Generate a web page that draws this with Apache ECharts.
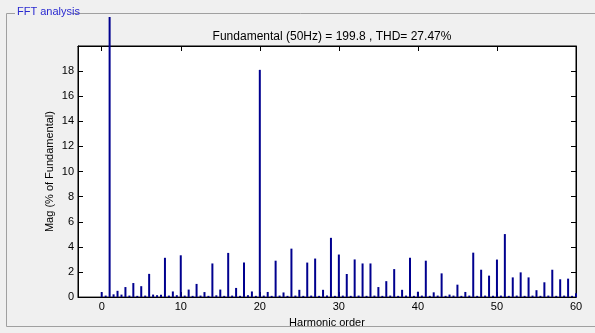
<!DOCTYPE html>
<html>
<head>
<meta charset="utf-8">
<script src="https://cdn.jsdelivr.net/npm/echarts@6/dist/echarts.min.js"></script>
<style>
html,body{margin:0;padding:0;background:#f0f0f0;}
#c{width:595px;height:333px;}
</style>
</head>
<body>
<div id="c"></div>
<script>
// Harmonic orders and magnitudes (% of fundamental)
const harmonicOrders = [0,1,2,3,4,5,6,7,8,9,10,11,12,13,14,15,16,17,18,19,20,21,22,23,24,25,26,27,28,29,30,31,32,33,34,35,36,37,38,39,40,41,42,43,44,45,46,47,48,49,50,51,52,53,54,55,56,57,58,59,60];
const harmonicMags = [0.4,100,0.5,0.8,1.12,0.87,1.85,0.15,3.13,0.45,3.33,0.6,1.05,0.4,2.68,0.6,3.52,0.73,2.75,0.45,18.1,0.41,2.9,0.37,3.86,0.58,2.75,3.07,0.58,4.72,3.39,1.84,3.0,2.68,2.68,0.8,1.27,2.23,0.58,3.13,0.43,2.9,0.38,1.89,0.2,0.99,0.41,3.54,2.18,1.71,2.99,5.02,1.57,1.97,1.57,0.55,1.18,2.18,1.42,1.47,0.3];
// Interharmonic components (small baseline content)
const interOrders = [0.5,1.5,2.5,3.5,4.5,5.5,6.5,7.5,8.5,9.5,10.5,11.5,12.5,13.5,14.5,15.5,16.5,17.5,18.5,19.5,20.5,21.5,22.5,23.5,24.5,25.5,26.5,27.5,28.5,29.5,30.5,31.5,32.5,33.5,34.5,35.5,36.5,37.5,38.5,39.5,40.5,41.5,42.5,43.5,44.5,45.5,46.5,47.5,48.5,49.5,50.5,51.5,52.5,53.5,54.5,55.5,56.5,57.5,58.5,59.5];
const interMags = [0.12,0.22,0.2,0.12,0.1,0.12,0.2,0.18,0.12,0.15,0.12,0.1,0.12,0.1,0.14,0.1,0.12,0.1,0.15,0.1,0.12,0.1,0.12,0.1,0.12,0.1,0.12,0.1,0.12,0.1,0.12,0.1,0.12,0.1,0.12,0.1,0.12,0.1,0.12,0.1,0.12,0.1,0.12,0.1,0.12,0.1,0.12,0.1,0.12,0.1,0.12,0.1,0.12,0.1,0.12,0.1,0.12,0.1,0.12,0.1];
const xTicks = [0,10,20,30,40,50,60];
const titleText = 'Fundamental (50Hz) = 199.8 , THD= 27.47%';

const chart = echarts.init(document.getElementById('c'), null, {renderer:'canvas'});
const font = 'Liberation Sans, Arial, sans-serif';
const barColor = '#00008f';

const hData = harmonicOrders.map((h,i)=>[h, harmonicMags[i]]);
const iData = interOrders.map((h,i)=>[h, interMags[i]]);

chart.setOption({
  animation:false,
  backgroundColor:'#f0f0f0',
  grid:{left:78,right:19,top:46,bottom:33,show:true,backgroundColor:'#ffffff',borderColor:'#000',borderWidth:1,containLabel:false},
  title:{text:titleText,left:327,top:26,textAlign:'center',textStyle:{fontFamily:font,fontSize:12,fontWeight:'normal',color:'#000'}},
  xAxis:[{
    type:'value',min:-3,max:60,position:'bottom',
    name:'Harmonic order',nameLocation:'middle',nameGap:16,
    nameTextStyle:{fontFamily:font,fontSize:11,color:'#000'},
    axisLine:{show:true,onZero:false,lineStyle:{color:'#000',width:1}},
    axisTick:{show:true,inside:true,length:5,customValues:xTicks,lineStyle:{color:'#000'}},
    axisLabel:{show:true,customValues:xTicks,margin:4,fontFamily:font,fontSize:11,color:'#000'},
    splitLine:{show:false}
  },{
    type:'value',min:-3,max:60,position:'top',
    axisLine:{show:true,onZero:false,lineStyle:{color:'#000',width:1}},
    axisTick:{show:true,inside:true,length:5,customValues:xTicks,lineStyle:{color:'#000'}},
    axisLabel:{show:false},
    splitLine:{show:false}
  }],
  yAxis:[{
    type:'value',min:0,max:20,interval:2,position:'left',
    name:'Mag (% of Fundamental)',nameLocation:'middle',nameGap:28,nameRotate:90,nameMoveOverlap:false,
    nameTextStyle:{fontFamily:font,fontSize:11,color:'#000',verticalAlign:'middle'},
    axisLine:{show:true,onZero:false,lineStyle:{color:'#000',width:1}},
    axisTick:{show:true,inside:true,length:5,lineStyle:{color:'#000'}},
    axisLabel:{show:true,showMaxLabel:false,margin:4,fontFamily:font,fontSize:11,color:'#000'},
    splitLine:{show:false}
  },{
    type:'value',min:0,max:20,interval:2,position:'right',
    axisLine:{show:true,onZero:false,lineStyle:{color:'#000',width:1}},
    axisTick:{show:true,inside:true,length:5,lineStyle:{color:'#000'}},
    axisLabel:{show:false},
    splitLine:{show:false}
  }],
  series:[{
    type:'bar',name:'inter',data:iData,xAxisIndex:0,yAxisIndex:0,
    barWidth:2,itemStyle:{color:barColor},barGap:'-100%',silent:true
  },{
    type:'bar',name:'harmonics',data:hData,xAxisIndex:0,yAxisIndex:0,
    barWidth:2,clip:false,itemStyle:{color:barColor},barGap:'-100%',silent:true
  }],
  graphic:[
    {type:'rect',z:50,shape:{x:0,y:0,width:595,height:17},style:{fill:'#f0f0f0'}},
    {type:'polyline',z:51,shape:{points:[[595,13.5],[6.5,13.5],[6.5,326.5],[595,326.5]]},style:{stroke:'#a0a0a0',lineWidth:1,fill:null}},
    {type:'rect',z:52,shape:{x:15,y:5,width:57,height:14},style:{fill:'#f0f0f0'}},
    {type:'text',z:53,x:17,y:12,style:{text:'FFT analysis',fill:'#2a2ad0',font:'11px '+font,textVerticalAlign:'middle'}}
  ]
});
</script>
</body>
</html>
